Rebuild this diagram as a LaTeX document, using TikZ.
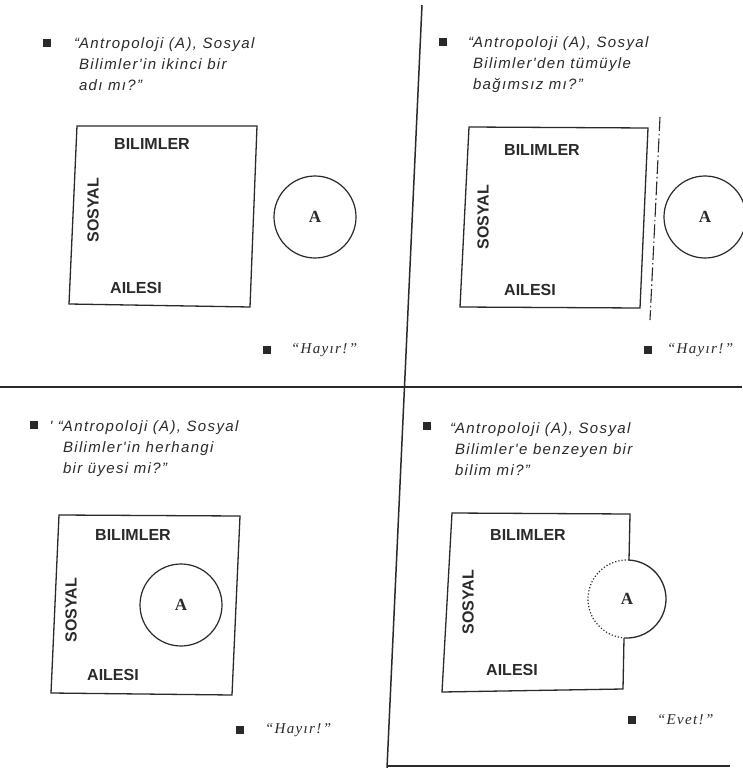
\documentclass[tikz,border=0pt]{standalone}
\usepackage{fontspec}
\setmainfont{Liberation Serif}
\setsansfont{Liberation Sans}
\newfontfamily\qfont[LetterSpace=9]{Liberation Sans}
\newfontfamily\afont[LetterSpace=9]{Liberation Serif}
\definecolor{ink}{HTML}{2A2A2A}
\tikzset{
  every node/.style={inner sep=0pt, outer sep=0pt},
  box/.style={draw=ink, line width=1.3pt, line join=miter},
  divider/.style={draw=ink, line width=1.5pt},
  lbl/.style={font=\sffamily\bfseries\fontsize{16}{16}\selectfont, text=ink},
  quest/.style={font=\qfont\itshape\fontsize{15}{21}\selectfont, align=left, anchor=north west, text=ink},
  ans/.style={font=\afont\itshape\fontsize{15}{15}\selectfont, anchor=west, text=ink},
  bullet/.style={fill=ink, minimum size=8pt},
  acirc/.style={circle, draw=ink, line width=1.2pt, minimum size=82pt, font=\bfseries\fontsize{17}{17}\selectfont, text=ink},
  dashdot/.style={draw=ink, line width=1.1pt, dash pattern=on 14pt off 3pt on 1.5pt off 3pt}
}
\begin{document}
\begin{tikzpicture}[x=1pt,y=1pt]
\useasboundingbox (0,0) rectangle (742,-768);
\fill[white] (0,0) rectangle (742,-768);

% dividers
\coordinate (vtop) at (422,-5);
\coordinate (vbot) at (387,-768);
\coordinate (hl) at (0,-387);
\coordinate (hr) at (742,-387);
\coordinate (bl) at (388,-766);
\coordinate (br) at (730,-766);
\draw[divider] (vtop) -- (vbot);
\draw[divider] (hl) -- (hr);
\draw[divider] (bl) -- (br);

% ---------- Panel 1 ----------
\node[bullet] (b1) at (47,-43) {};
\node[quest] (q1) at (79,-38) {\llap{“}Antropoloji (A), Sosyal\\Bilimler'in ikinci bir\\adı mı?”};
\draw[box] (77,-126) -- (257,-126) -- (250,-307) -- (69,-304) -- cycle;
\node[lbl] (bil1) at (152,-144) {BILIMLER};
\node[lbl, rotate=90] (sos1) at (93,-210) {SOSYAL};
\node[lbl] (ail1) at (136,-288) {AILESI};
\node[acirc] (a1) at (315,-217) {A};
\node[bullet] (hb1) at (267,-350) {};
\node[ans] (h1) at (291,-350) {“Hayır!”};

% ---------- Panel 2 ----------
\node[bullet] (b2) at (443,-42) {};
\node[quest] (q2) at (473,-37) {\llap{“}Antropoloji (A), Sosyal\\Bilimler'den tümüyle\\bağımsız mı?”};
\draw[box] (469,-127) -- (648,-128) -- (640,-308) -- (460,-307) -- cycle;
\node[lbl] (bil2) at (542,-150) {BILIMLER};
\node[lbl, rotate=90] (sos2) at (483,-217) {SOSYAL};
\node[lbl] (ail2) at (530,-290) {AILESI};
\coordinate (dd1) at (660,-117);
\coordinate (dd2) at (650,-320);
\draw[dashdot] (dd1) -- (dd2);
\node[acirc] (a2) at (705,-217) {A};
\node[bullet] (hb2) at (648,-350) {};
\node[ans] (h2) at (667,-350) {“Hayır!”};

% ---------- Panel 3 ----------
\node[bullet] (b3) at (34,-425) {};
\node[quest] (q3) at (63,-421) {\llap{' “}Antropoloji (A), Sosyal\\Bilimler'in herhangi\\bir üyesi mi?”};
\draw[box] (59,-515) -- (240,-516) -- (232,-695) -- (51,-693) -- cycle;
\node[lbl] (bil3) at (133,-535) {BILIMLER};
\node[lbl, rotate=90] (sos3) at (71,-610) {SOSYAL};
\node[lbl] (ail3) at (113,-675) {AILESI};
\node[acirc] (a3) at (181,-605) {A};
\node[bullet] (hb3) at (240,-730) {};
\node[ans] (h3) at (265,-730) {“Hayır!”};

% ---------- Panel 4 ----------
\node[bullet] (b4) at (427,-426) {};
\node[quest] (q4) at (455,-423) {\llap{“}Antropoloji (A), Sosyal\\Bilimler'e benzeyen bir\\bilim mi?”};
\node[font=\bfseries\fontsize{17}{17}\selectfont, text=ink] (a4) at (627,-599) {A};
\draw[box] (629,-560) -- (630,-514) -- (452,-513) -- (442,-692) -- (623,-689) -- (624,-638);
\draw[draw=ink, line width=1.3pt] (a4.center) ++(87:39) arc[start angle=87, end angle=-94, radius=39];
\draw[draw=ink, line width=1.2pt, dotted] (a4.center) ++(87:39) arc[start angle=87, end angle=266, radius=39];
\node[lbl] (bil4) at (528,-535) {BILIMLER};
\node[lbl, rotate=90] (sos4) at (468,-602) {SOSYAL};
\node[lbl] (ail4) at (512,-670) {AILESI};
\node[bullet] (hb4) at (632,-720) {};
\node[ans] (h4) at (657,-720) {“Evet!”};
\end{tikzpicture}
\end{document}
